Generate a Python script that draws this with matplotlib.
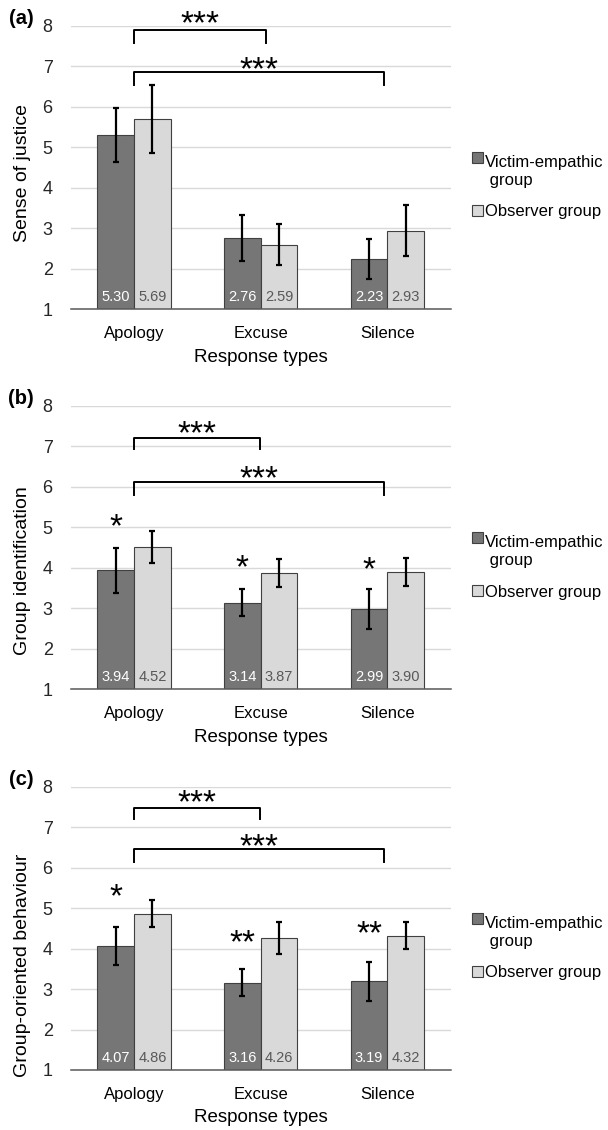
import numpy as np
import matplotlib.pyplot as plt
import matplotlib.patches as mpatches
from matplotlib.legend_handler import HandlerPatch

plt.rcParams['font.family'] = ['Liberation Sans', 'DejaVu Sans']

categories = ['Apology', 'Excuse', 'Silence']
group_names = ['Victim-empathic\n group', 'Observer group']

justice_victim = [5.30, 2.76, 2.23]
justice_observer = [5.69, 2.59, 2.93]
justice_victim_err = [0.66, 0.57, 0.49]
justice_observer_err = [0.84, 0.50, 0.63]

ident_victim = [3.94, 3.14, 2.99]
ident_observer = [4.52, 3.87, 3.90]
ident_victim_err = [0.55, 0.34, 0.50]
ident_observer_err = [0.40, 0.34, 0.34]

behav_victim = [4.07, 3.16, 3.19]
behav_observer = [4.86, 4.26, 4.32]
behav_victim_err = [0.47, 0.34, 0.49]
behav_observer_err = [0.33, 0.39, 0.33]

ident_group_sig = ['*', '*', '*']
behav_group_sig = ['*', '**', '**']
response_sig = ['***', '***']

DARK = '#767676'
LIGHT = '#d9d9d9'
EDGE = '#404040'
W, H = 608, 1130
AX_L, AX_W = 70.7, 380

panels = [
    dict(tag='(a)', ylabel='Sense of justice', top=25.7, bottom=309.0,
         vals=(justice_victim, justice_observer),
         errs=(justice_victim_err, justice_observer_err),
         sig=None, sig_y=None,
         brackets=[(0, 1.045, 7.90, 7.58, 8.28), (0, 1.977, 6.85, 6.53, 7.15)],
         ylab_y=0.48),
    dict(tag='(b)', ylabel='Group identification', top=406.0, bottom=689.3,
         vals=(ident_victim, ident_observer),
         errs=(ident_victim_err, ident_observer_err),
         sig=ident_group_sig, sig_y=[5.27, 4.24, 4.20],
         brackets=[(0, 0.996, 7.22, 6.93, 7.56), (0, 1.977, 6.11, 5.80, 6.44)],
         ylab_y=0.42),
    dict(tag='(c)', ylabel='Group-oriented behaviour', top=786.7, bottom=1070.0,
         vals=(behav_victim, behav_observer),
         errs=(behav_victim_err, behav_observer_err),
         sig=behav_group_sig, sig_y=[5.53, 4.38, 4.60],
         brackets=[(0, 0.996, 7.48, 7.19, 7.84), (0, 1.977, 6.47, 6.15, 6.76)],
         ylab_y=0.37),
]


def upper_patch(legend, orig_handle, xdescent, ydescent, width, height, fontsize):
    # put the square next to the first line of the two-line label
    return mpatches.Rectangle((-xdescent, -ydescent + 0.85 * fontsize), width, height)


def star(ax, x, y, s, fs):
    ax.annotate(s, (x, y), xytext=(0, -0.58 * fs), textcoords='offset points',
                ha='center', va='baseline', fontsize=fs, annotation_clip=False)


fig = plt.figure(figsize=(W / 100, H / 100), dpi=100)
x = np.arange(len(categories))
w = 0.29
ekw = dict(ecolor='black', elinewidth=1.6, capsize=2.5, capthick=1.6)

for p in panels:
    h = p['bottom'] - p['top']
    ax = fig.add_axes([AX_L / W, 1 - p['bottom'] / H, AX_W / W, h / H])
    v1, v2 = p['vals']
    e1, e2 = p['errs']
    ax.bar(x - w / 2, v1, w, color=DARK, edgecolor=EDGE, linewidth=0.8,
           yerr=e1, error_kw=ekw, zorder=2)
    ax.bar(x + w / 2, v2, w, color=LIGHT, edgecolor=EDGE, linewidth=0.8,
           yerr=e2, error_kw=ekw, zorder=2)
    for i in range(len(categories)):
        ax.text(x[i] - w / 2, 1.30, f'{v1[i]:.2f}', ha='center', va='center',
                color='white', fontsize=10.5, zorder=3)
        ax.text(x[i] + w / 2, 1.30, f'{v2[i]:.2f}', ha='center', va='center',
                color='#595959', fontsize=10.5, zorder=3)

    ax.set_xlim(-0.5, 2.5)
    ax.set_ylim(1, 8)
    ax.set_yticks(range(1, 9))
    ax.set_xticks(x)
    ax.set_xticklabels(categories, fontsize=12)
    ax.tick_params(axis='y', length=0, pad=13, labelsize=13, labelcolor='#262626')
    ax.tick_params(axis='x', length=0, pad=12)
    ax.yaxis.grid(True, color='#d9d9d9', linewidth=1)
    ax.set_axisbelow(True)
    for s in ['left', 'right', 'top']:
        ax.spines[s].set_visible(False)
    ax.spines['bottom'].set_color('#595959')
    ax.spines['bottom'].set_linewidth(1.1)

    ax.set_ylabel(p['ylabel'], fontsize=14, va='center')
    ax.yaxis.set_label_coords((23 - AX_L) / AX_W, p['ylab_y'])
    ax.text(0.5, -48 / h, 'Response types', transform=ax.transAxes,
            ha='center', va='center', fontsize=13.5)

    for (x0, x1, top, drop, sy), s in zip(p['brackets'], response_sig):
        ax.plot([x0, x0, x1, x1], [drop, top, top, drop], color='black',
                linewidth=1.4, clip_on=False, zorder=4)
        star(ax, (x0 + x1) / 2, sy, s, 24)
    if p['sig']:
        for i, s in enumerate(p['sig']):
            star(ax, x[i] - w / 2, p['sig_y'][i], s, 24)

    h_dark = mpatches.Patch(facecolor=DARK, edgecolor=EDGE, linewidth=0.8)
    h_light = mpatches.Patch(facecolor=LIGHT, edgecolor=EDGE, linewidth=0.8)
    ax.legend([h_dark, h_light], group_names, loc='center left',
              bbox_to_anchor=((472 - AX_L) / AX_W, 0.43), frameon=False,
              borderpad=0, borderaxespad=0, handlelength=0.65, handleheight=0.65,
              handletextpad=0.12, labelspacing=1.0, fontsize=12,
              handler_map={h_dark: HandlerPatch(patch_func=upper_patch)})

    fig.text(21 / W, 1 - (p['top'] - 7) / H, p['tag'], fontweight='bold',
             fontsize=14.5, ha='center', va='center')

fig.savefig('out.png', dpi=100)
